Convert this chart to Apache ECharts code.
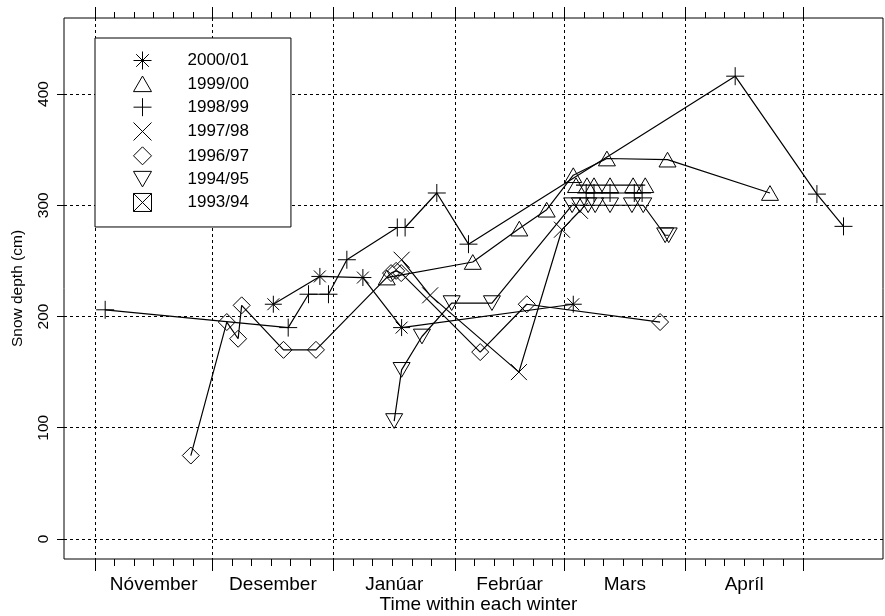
<!DOCTYPE html>
<html><head><meta charset="utf-8">
<script src="https://cdn.jsdelivr.net/npm/echarts@6/dist/echarts.min.js"></script>
<style>html,body{margin:0;padding:0;background:#fff}#c{width:885px;height:616px}</style>
</head><body><div id="c"></div>
<script>
// ---- axis definitions ----
const monthNames = ['Nóvember', 'Desember', 'Janúar', 'Febrúar', 'Mars', 'Apríl'];
const monthDays = [30, 31, 31, 28, 31, 30];
const minorStep = 5;                       // days between minor ticks inside a month
const depthTicks = [0, 100, 200, 300, 400];

// ---- data: x = days after 1 November, y = snow depth (cm) ----
const w0001_day   = [45.6, 57.5, 68.5, 78.4, 122.3];
const w0001_depth = [211, 236, 235, 190, 211];

const w9900_day   = [74.6, 96.6, 108.5, 115.5, 122.3, 130.9, 146.4, 172.6];
const w9900_depth = [235, 249, 279, 296, 327, 342, 341, 311];
const w9900b_day   = [123.0, 125.8, 127.6, 131.7, 137.6, 140.7];
const w9900b_depth = [318, 318, 318, 318, 318, 318];

const w9899_day   = [2.6, 49.4, 54.6, 59.7, 64.4, 77.3, 79.3, 87.4, 95.5, 163.7, 184.6, 191.4];
const w9899_depth = [206, 190, 220, 220, 251, 280, 280, 311, 265, 416, 310, 281];
const w9899b_day   = [125.6, 127.6, 131.7, 137.9, 139.9];
const w9899b_depth = [311, 311, 311, 311, 311];

const w9798_day   = [78.4, 85.7, 108.4, 119.4, 124.0];
const w9798_depth = [251, 219, 150, 278, 295];

const w9697_day   = [24.5, 33.7, 36.6, 37.5, 48.2, 56.5, 75.7, 77.0, 78.3, 98.5, 110.4, 144.5];
const w9697_depth = [75, 195, 180, 210, 170, 170, 239, 241, 239, 168, 211, 195];

const w9495_day   = [76.5, 78.4, 83.6, 91.2, 101.5, 122.0, 124.0, 126.1, 127.9, 131.7, 137.3, 140.2, 145.8, 146.7];
const w9495_depth = [106, 152, 182, 212, 212, 300, 300, 300, 300, 300, 300, 300, 273, 273];

const w9394_day   = [];
const w9394_depth = [];

// ---- derived tick positions ----
const monthStarts = [0];
monthDays.forEach(d => monthStarts.push(monthStarts[monthStarts.length - 1] + d));
const monthMids = monthDays.map((d, i) => monthStarts[i] + d / 2);
const minorTicks = [];
monthDays.forEach((d, i) => { for (let k = minorStep; k < d - 1; k += minorStep) minorTicks.push(monthStarts[i] + k); });

// ---- symbols (R pch look-alikes) ----
const SYM = {
  asterisk: 'path://M10 0L10 20M0 10L20 10M3 3L17 17M17 3L3 17',
  triUp: 'path://M10 0L20 17.3L0 17.3Z',
  plus: 'path://M10 0L10 20M0 10L20 10',
  cross: 'path://M0 0L20 20M20 0L0 20',
  diamond: 'path://M10 0L20 10L10 20L0 10Z',
  triDown: 'path://M0 0L20 0L10 17.3Z',
  boxX: 'path://M0 0L20 0L20 20L0 20ZM0 0L20 20M20 0L0 20'
};

const FONT = '"Liberation Sans", Arial, Helvetica, sans-serif';
const XMIN = -7.93, XMAX = 201.5, YMIN = -18, YMAX = 468.3;
const dash = { color: '#000', width: 1, type: [3, 3] };

function mk(name, days, depths, symbol, size) {
  return {
    type: 'line', name: name,
    data: days.map((d, i) => [d, depths[i]]),
    symbol: symbol, symbolSize: size, symbolKeepAspect: true,
    itemStyle: { color: 'transparent', borderColor: '#000', borderWidth: 1 },
    lineStyle: { color: '#000', width: 1.2 },
    emphasis: { disabled: true }, silent: true, animation: false, z: 3
  };
}

const series = [
  mk('2000/01', w0001_day, w0001_depth, SYM.asterisk, 17),
  mk('1999/00', w9900_day, w9900_depth, SYM.triUp, 17),
  mk('1998/99', w9899_day, w9899_depth, SYM.plus, 18),
  mk('1997/98', w9798_day, w9798_depth, SYM.cross, 16),
  mk('1996/97', w9697_day, w9697_depth, SYM.diamond, 17),
  mk('1994/95', w9495_day, w9495_depth, SYM.triDown, 17),
  mk('1993/94', w9394_day, w9394_depth, SYM.boxX, 17),
  mk('1999/00', w9900b_day, w9900b_depth, SYM.triUp, 17),
  mk('1998/99', w9899b_day, w9899b_depth, SYM.plus, 18)
];

const legendNames = ['2000/01', '1999/00', '1998/99', '1997/98', '1996/97', '1994/95', '1993/94'];
const legendIcons = [SYM.asterisk, SYM.triUp, SYM.plus, SYM.cross, SYM.diamond, SYM.triDown, SYM.boxX];

function xAx(pos, values, len, extra) {
  return Object.assign({
    type: 'value', position: pos, min: XMIN, max: XMAX,
    axisLine: { show: false, onZero: false },
    axisTick: { show: true, length: len, customValues: values, lineStyle: { color: '#000', width: 1 } },
    axisLabel: { show: false },
    splitLine: { show: false }
  }, extra || {});
}

const chart = echarts.init(document.getElementById('c'), null, { renderer: 'canvas' });
chart.setOption({
  animation: false,
  backgroundColor: '#fff',
  textStyle: { fontFamily: FONT },
  grid: { left: 64, top: 18, width: 819, height: 541, show: true, borderColor: '#000', borderWidth: 1,
    backgroundColor: 'transparent', containLabel: false, outerBoundsMode: 'none' },
  legend: {
    left: 95, top: 38, orient: 'vertical', selectedMode: false,
    backgroundColor: '#fff', borderColor: '#000', borderWidth: 1,
    padding: [13, 42, 15, 38],
    itemWidth: 18, itemHeight: 18, itemGap: 5.33,
    itemStyle: { color: 'transparent', borderColor: '#000', borderWidth: 1 },
    data: legendNames.map((n, i) => ({ name: n, icon: legendIcons[i] })),
    formatter: n => '{t|' + n + '}',
    textStyle: { color: '#000', fontFamily: FONT, fontSize: 17,
      rich: { t: { fontSize: 17, lineHeight: 18, padding: [0, 0, 0, 31], color: '#000', fontFamily: FONT } } }
  },
  xAxis: [
    xAx('bottom', monthStarts, 12, {
      name: 'Time within each winter', nameLocation: 'middle', nameGap: 36, nameMoveOverlap: false,
      nameTextStyle: { color: '#000', fontSize: 19, lineHeight: 19, fontFamily: FONT, padding: [0, 0, 0, 10] },
      axisLabel: { show: true, customValues: monthMids, margin: 16, color: '#000', fontSize: 19, lineHeight: 19, fontFamily: FONT,
        formatter: v => { const i = monthMids.findIndex(m => Math.abs(m - v) < 0.01); return i >= 0 ? monthNames[i] : ''; } },
      splitLine: { show: true, lineStyle: dash }
    }),
    xAx('bottom', minorTicks, 7),
    xAx('top', monthStarts, 11),
    xAx('top', minorTicks, 6)
  ],
  yAxis: {
    type: 'value', min: YMIN, max: YMAX, position: 'left',
    name: 'Snow depth (cm)', nameLocation: 'middle', nameGap: 38, nameMoveOverlap: false,
    nameTextStyle: { color: '#000', fontSize: 15.5, lineHeight: 16, fontFamily: FONT },
    axisLine: { show: false, onZero: false },
    axisTick: { show: true, length: 7, customValues: depthTicks, lineStyle: { color: '#000', width: 1 } },
    axisLabel: { customValues: depthTicks, rotate: 90, margin: 13, color: '#000', fontSize: 15.5, lineHeight: 15, fontFamily: FONT,
      formatter: v => String(v) },
    splitLine: { show: true, lineStyle: dash }
  },
  series: series
});
</script></body></html>
